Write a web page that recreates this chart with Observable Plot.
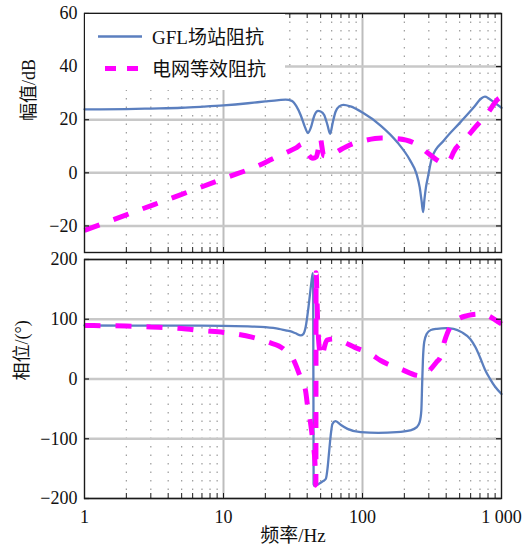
<!DOCTYPE html>
<html><head><meta charset="utf-8">
<script src="https://cdn.jsdelivr.net/npm/d3@7"></script>
<script src="https://cdn.jsdelivr.net/npm/@observablehq/plot@0.6"></script>
<style>
html,body{margin:0;padding:0;background:#fff;}
#wrap{position:relative;width:526px;height:554px;background:#fff;overflow:hidden;}
#wrap > svg{position:absolute;left:0;}
</style></head>
<body><div id="wrap"></div>
<script>
// ---------- data ----------
const xDomain = [1, 1000];
const xMajor = [1, 10, 100, 1000];
const xTickLabels = ["1", "10", "100", "1 000"];
const xMinor = [2,3,4,5,6,7,8,9,20,30,40,50,60,70,80,90,200,300,400,500,600,700,800,900];

const magDomain = [-30, 60];
const magTicks = [-20, 0, 20, 40, 60];
const phDomain = [-200, 200];
const phTicks = [-200, -100, 0, 100, 200];

const seriesNames = ["GFL场站阻抗", "电网等效阻抗"];
const magLabel = "幅值/dB";
const phLabel = "相位/(°)";
const xLabel = "频率/Hz";

// GFL station impedance magnitude (Hz, dB)
const gflMagF  = [1, 2, 3, 5, 7, 10, 15, 20, 25, 28, 31, 33.5, 36, 38.5, 40.5, 42.5, 45, 48, 50, 53, 56, 58.5, 61, 64, 68, 73, 82, 100, 135, 178, 220, 245, 258, 266, 273, 279, 286, 295, 317, 385, 507, 632, 715, 760, 810, 881, 1000];
const gflMagDb = [23.9, 24.0, 24.2, 24.5, 24.9, 25.4, 26.2, 26.9, 27.4, 27.6, 27.1, 25.0, 21.6, 17.3, 15.0, 17.0, 21.5, 23.3, 23.1, 21.8, 18.0, 14.7, 18.8, 23.0, 25.0, 25.6, 25.0, 22.7, 17.8, 11.5, 4.7, -0.5, -5.5, -10.5, -14.8, -10.0, -5.5, -1.8, 5.9, 12.2, 19.1, 24.7, 28.0, 28.7, 28.0, 26.6, 24.5];

// Grid equivalent impedance magnitude (Hz, dB)
const gridMagF  = [1, 2, 5, 10, 20, 22, 28, 33, 37, 39, 41.2, 44, 46.5, 48.5, 49.8, 51, 52.5, 56, 62, 70, 81, 104, 137, 180, 240, 300, 365, 400, 430, 452, 552, 648, 788, 950, 1000];
const gridMagDb = [-21.7, -15.8, -8.1, -2.2, 3.9, 5.0, 7.5, 9.3, 10.8, 9.0, 6.5, 5.5, 6.0, 10.0, 13.2, 10.0, 6.5, 6.3, 7.2, 8.8, 10.5, 12.2, 13.1, 12.8, 11.0, 7.2, 4.0, 3.5, 5.3, 7.8, 12.8, 17.2, 22.2, 27.9, 28.6];

// GFL station impedance phase (Hz, deg)
const gflPhF   = [1, 5, 10, 15, 20, 25, 28, 30, 33, 36, 37.5, 39, 41, 42.8, 43.9, 44.2, 44.5, 45.2, 48, 52, 54.5, 56, 57.2, 59, 60.8, 64, 70, 78, 97, 130, 176, 220, 246, 258, 265, 268.5, 272, 278, 290, 310, 343, 400, 452, 520, 594, 650, 700, 760, 827, 900, 1000];
const gflPhDeg = [89.5, 89.3, 89, 88, 86.7, 84, 81.5, 80, 76.5, 73, 75, 87, 123, 160, 177, 150, -176, -179, -176, -171, -167, -150, -128, -95, -75, -70.6, -77, -83.5, -89, -90, -89, -86, -80.6, -72, -52.7, -10, 31, 62, 75.6, 82, 84, 85, 84, 78, 67.3, 53, 36.5, 16, 0.3, -13, -25];

// Grid equivalent impedance phase (Hz, deg)
const gridPhF   = [1, 2, 3, 5, 7, 10, 12, 16, 21, 27, 32, 35.4, 38.9, 40.5, 42.2, 44, 45.5, 46.2, 46.35, 47.5, 49, 50.9, 53, 55.5, 62, 69, 88, 114, 135, 150, 187, 246, 268, 305, 340, 364, 381, 410, 452, 500, 566, 650, 737, 800, 900, 1000];
const gridPhDeg = [89.5, 88.5, 87, 84.5, 81, 78, 75.6, 70, 61.6, 50.5, 31, 6, -19, -50, -72, -106, -140, -178, 178, 100, 50, 36, 52, 65, 67, 64, 53, 42, 31, 25.5, 17, 6, 5, 15, 28, 37, 56, 78, 95, 102, 106, 108.5, 109, 106, 99, 92];

// ---------- styling ----------
const blue = "#5b7fbf";
const magenta = "#ff00ff";
const fontFamily = "'Liberation Serif','Times New Roman','Noto Sans CJK SC',serif";
const W = 526, ML = 84, MR = 25;

const zip = (fs, vs) => fs.map((f, i) => ({f, v: vs[i]}));
const fmtY = d => d < 0 ? "\u2212" + Math.abs(d) : String(d);

function panel({yDomain, yTicks, height, mt, mb, gfl, grid, showX, yLabel, ldx, ldy}) {
  const ph = height - mt - mb;
  const ty = (yDomain[1] - yDomain[0]) * 5 / ph;
  const tx = Math.pow(10, 3 * 5 / (W - ML - MR));
  const allX = xMajor.concat(xMinor);
  const marks = [
    Plot.ruleX(xMinor, {x: d => d, stroke: "#9a9a9a", strokeWidth: 1.2, strokeDasharray: "1.5,7"}),
    Plot.ruleX([10, 100], {x: d => d, stroke: "#bdbdbd", strokeWidth: 2}),
    Plot.ruleY(yTicks, {y: d => d, stroke: "#c8c8c8", strokeWidth: 2.5}),
    Plot.line(gfl, {x: "f", y: "v", stroke: blue, strokeWidth: 2.3, curve: "monotone-x"}),
    Plot.line(grid, {x: "f", y: "v", stroke: magenta, strokeWidth: 5, strokeDasharray: "16,15", strokeLinecap: "butt", strokeLinejoin: "miter", curve: "monotone-x"}),
    Plot.frame({stroke: "#1a1a1a", strokeWidth: 1.4}),
    Plot.ruleX(allX, {x: d => d, y1: yDomain[0], y2: yDomain[0] + ty, stroke: "#1a1a1a", strokeWidth: 1}),
    Plot.ruleX(allX, {x: d => d, y1: yDomain[1] - ty, y2: yDomain[1], stroke: "#1a1a1a", strokeWidth: 1}),
    Plot.ruleY(yTicks, {y: d => d, x1: xDomain[0], x2: xDomain[0] * tx, stroke: "#1a1a1a", strokeWidth: 1.2}),
    Plot.ruleY(yTicks, {y: d => d, x1: xDomain[1] / tx, x2: xDomain[1], stroke: "#1a1a1a", strokeWidth: 1.2}),
    Plot.axisY({ticks: yTicks, tickFormat: fmtY, tickSize: 0, tickPadding: 7, fontSize: 18, label: null}),
    Plot.text([yLabel], {text: d => d, frameAnchor: "left", rotate: -90, dx: ldx, dy: ldy, fontSize: 18, fill: "#111"})
  ];
  if (showX) {
    marks.push(Plot.axisX({ticks: xMajor, tickFormat: d => xTickLabels[xMajor.indexOf(d)], tickSize: 0, tickPadding: 12, fontSize: 18, label: null}));
    marks.push(Plot.text([xLabel], {text: d => d, frameAnchor: "bottom", dy: 43, fontSize: 19, fill: "#111"}));
  }
  return Plot.plot({
    width: W, height,
    marginLeft: ML, marginRight: MR, marginTop: mt, marginBottom: mb,
    style: {fontFamily, color: "#111", background: "transparent", overflow: "visible"},
    x: {type: "log", domain: xDomain, axis: showX ? undefined : null},
    y: {domain: yDomain},
    marks
  });
}

const wrap = document.getElementById("wrap");

const topPlot = panel({yDomain: magDomain, yTicks: magTicks, height: 256, mt: 13, mb: 4,
  gfl: zip(gflMagF, gflMagDb), grid: zip(gridMagF, gridMagDb), showX: false,
  yLabel: magLabel, ldx: -55, ldy: -12});
topPlot.style.top = "0px";
wrap.appendChild(topPlot);

// legend overlay (white box inside the upper panel)
const ns = "http://www.w3.org/2000/svg";
const leg = document.createElementNS(ns, "svg");
leg.setAttribute("width", W); leg.setAttribute("height", 100);
leg.style.top = "0px";
const ff = fontFamily.replace(/'/g, "");
leg.innerHTML = `
  <rect x="85" y="14" width="200" height="76" fill="#fff"/>
  <line x1="98" y1="36.5" x2="142" y2="36.5" stroke="${blue}" stroke-width="2.3"/>
  <line x1="105" y1="68.5" x2="140" y2="68.5" stroke="${magenta}" stroke-width="5" stroke-dasharray="11,11"/>
  <text x="152" y="37" dominant-baseline="central" font-size="19" fill="#111" font-family="${ff}">${seriesNames[0]}</text>
  <text x="152" y="69" dominant-baseline="central" font-size="19" fill="#111" font-family="${ff}">${seriesNames[1]}</text>`;
wrap.appendChild(leg);

const bottomPlot = panel({yDomain: phDomain, yTicks: phTicks, height: 298, mt: 3, mb: 56,
  gfl: zip(gflPhF, gflPhDeg), grid: zip(gridPhF, gridPhDeg), showX: true,
  yLabel: phLabel, ldx: -62, ldy: 1.5});
bottomPlot.style.top = "256px";
wrap.appendChild(bottomPlot);
</script></body></html>
